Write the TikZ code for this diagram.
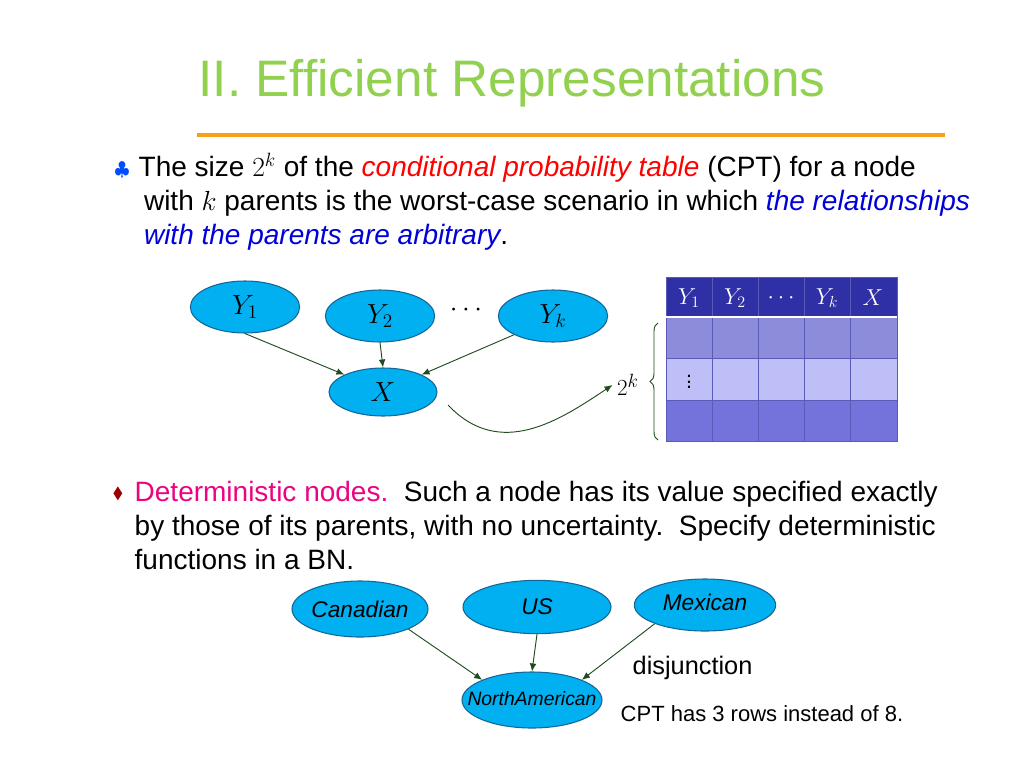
\documentclass[tikz,border=0pt]{standalone}
\usepackage{fontspec}
\setmainfont{Liberation Sans}
\usepackage{amssymb}
\usetikzlibrary{shapes.geometric,arrows.meta,decorations.pathreplacing}
\definecolor{titlecolor}{rgb}{0.57,0.82,0.31}
\definecolor{rulecolor}{rgb}{0.97,0.63,0.10}
\definecolor{nodefill}{rgb}{0.0,0.69,0.94}
\definecolor{nodeline}{rgb}{0.08,0.40,0.60}
\definecolor{hdcolor}{rgb}{0.19,0.19,0.65}
\definecolor{rowa}{rgb}{0.55,0.55,0.86}
\definecolor{rowb}{rgb}{0.75,0.75,0.97}
\definecolor{rowc}{rgb}{0.45,0.45,0.86}
\definecolor{arrowcolor}{rgb}{0.12,0.30,0.12}
\tikzset{
  bnnode/.style={ellipse,draw=nodeline,fill=nodefill,line width=0.8pt,inner sep=0pt},
  bnedge/.style={draw=arrowcolor,-{Latex[length=6pt,width=5pt]},line width=0.7pt}
}
\begin{document}
\begin{tikzpicture}[x=0.75pt,y=-0.75pt]
\useasboundingbox (0,0) rectangle (1024,768);
% setfont left to latex
\node[titlecolor,font=\fontsize{38.5}{42}\selectfont] (title) at (512,83){II. Efficient Representations};
\draw[rulecolor,line width=3pt] (197,135)--(945,135);
% first bullet
\node[blue!70!cyan,font=\fontsize{15}{17}\selectfont] (clubs) at (122,170){$\clubsuit$};
\node[anchor=north west,align=left,font=\fontsize{21}{25.5}\selectfont] (txtone) at (134,148){The size $2^k$ of the \textcolor{red}{\itshape conditional probability table} (CPT) for a node\\
\hspace{4pt}with $k$ parents is the worst-case scenario in which \textcolor{blue!85!black}{\itshape the relationships}\\
\hspace{4pt}\textcolor{blue!85!black}{\itshape with the parents are arbitrary}.};
% upper network
\node[bnnode,minimum width=82pt,minimum height=39pt,font=\fontsize{22}{24}\selectfont] (yone) at (245,307){$Y_1$};
\node[bnnode,minimum width=82pt,minimum height=39pt,font=\fontsize{22}{24}\selectfont] (ytwo) at (380,316){$Y_2$};
\node[bnnode,minimum width=82pt,minimum height=39pt,font=\fontsize{22}{24}\selectfont] (yk) at (553,316){$Y_k$};
\node[bnnode,minimum width=81pt,minimum height=36pt,font=\fontsize{22}{24}\selectfont] (xnode) at (383,392){$X$};
\node[font=\fontsize{20}{22}\selectfont] (dots) at (466,310){$\cdots$};
\draw[bnedge] (yone.south)--(xnode.north west);
\draw[bnedge] (ytwo.south)--(xnode.north);
\draw[bnedge] (yk.south west)--(xnode.north east);
\node[font=\fontsize{19}{21}\selectfont] (twok) at (628,385){$2^k$};
\coordinate (curvestart) at (448,405);
\draw[bnedge] (curvestart) .. controls (500,460) and (560,420) .. (twok.west);
% table
\fill[rowa] (666,317) rectangle (897,358);
\fill[rowb] (666,358) rectangle (897,400);
\fill[rowc] (666,400) rectangle (897,441);
\fill[hdcolor] (666,277) rectangle (897,317);
\foreach \xc in {712,758,804,850}{\draw[hdcolor!80,line width=0.6pt] (\xc,277)--(\xc,441);}
\foreach \yc in {358,400}{\draw[hdcolor!80,line width=0.6pt] (666,\yc)--(897,\yc);}
\draw[hdcolor!80,line width=0.6pt] (666,277) rectangle (897,441);
\draw[white,line width=1.5pt] (666,317)--(897,317);
\foreach \xc/\lab in {689/$Y_1$,735/$Y_2$,781/$\cdots$,827/$Y_k$,873/$X$}{\node[white,font=\fontsize{17}{19}\selectfont] at (\xc,298){\lab};}
\node[font=\fontsize{16}{18}\selectfont] (vdots) at (689,378){$\vdots$};
\draw[arrowcolor,line width=0.7pt,decorate,decoration={brace,amplitude=6pt}] (658,440)--(658,323);
% second bullet
\node[red!60!black,font=\fontsize{12}{14}\selectfont] (diam) at (118,494){$\blacklozenge$};
\node[anchor=north west,align=left,font=\fontsize{21}{25.5}\selectfont] (txttwo) at (130,476){\textcolor{magenta!90!red}{Deterministic nodes.}\ \ Such a node has its value specified exactly\\
by those of its parents, with no uncertainty.\ \ Specify deterministic\\
functions in a BN.};
% lower network
\node[bnnode,minimum width=102pt,minimum height=42pt,inner xsep=-8pt,font=\fontsize{17}{19}\selectfont\itshape] (canadian) at (360,609){Canadian};
\node[bnnode,minimum width=111pt,minimum height=40pt,font=\fontsize{17}{19}\selectfont\itshape] (us) at (537,607){US};
\node[bnnode,minimum width=106pt,minimum height=39pt,inner xsep=-8pt,font=\fontsize{17}{19}\selectfont\itshape] (mexican) at (705,605){\raisebox{4pt}{Mexican}};
\node[bnnode,minimum width=105pt,minimum height=42pt,inner xsep=-18pt,font=\fontsize{14.5}{16}\selectfont\itshape] (northam) at (532,700){\raisebox{3pt}{NorthAmerican}};
\draw[bnedge] (canadian.south east)--(northam.north west);
\draw[bnedge] (us.south)--(northam.north);
\draw[bnedge] (mexican.south west)--(northam.north east);
\node[anchor=west,font=\fontsize{19}{21}\selectfont] (disj) at (628,668){disjunction};
\node[anchor=west,font=\fontsize{16.5}{18}\selectfont] (cptrows) at (616,714){CPT has 3 rows instead of 8.};
\end{tikzpicture}
\end{document}
